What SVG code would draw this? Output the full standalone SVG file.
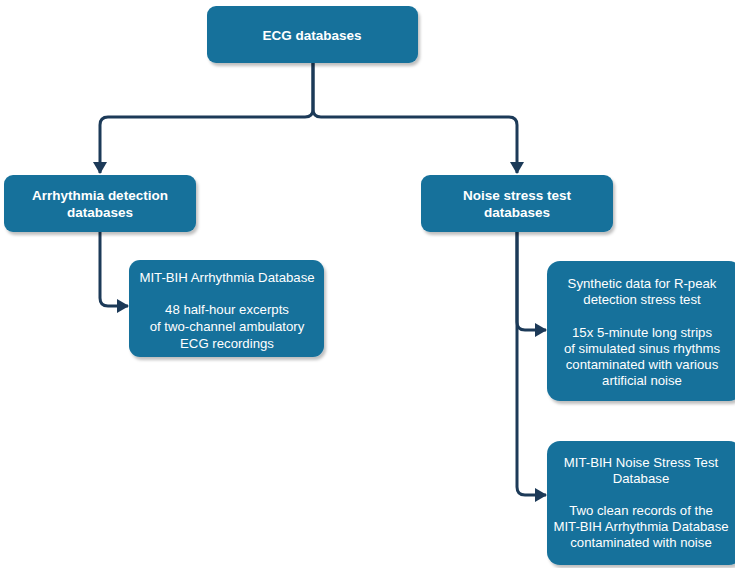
<svg xmlns="http://www.w3.org/2000/svg" width="735" height="568" viewBox="0 0 735 568">
  <defs>
    <filter id="shadow" x="-10%" y="-10%" width="125%" height="130%">
      <feDropShadow dx="2" dy="3" stdDeviation="1.5" flood-color="#000" flood-opacity="0.25"/>
    </filter>
    <marker id="arrow" viewBox="0 0 12 14" refX="11" refY="7" markerWidth="12" markerHeight="14" markerUnits="userSpaceOnUse" orient="auto">
      <path d="M0,0 L12,7 L0,14 Z" fill="#1c3a58"/>
    </marker>
  </defs>
  <style>
    .box { fill: #17719b; filter: url(#shadow); }
    .head { font-family: "Liberation Sans", Arial, sans-serif; font-size: 13.5px; font-weight: bold; fill: #ffffff; text-anchor: middle; }
    .body { font-family: "Liberation Sans", Arial, sans-serif; font-size: 13.2px; fill: #ffffff; text-anchor: middle; }
    .link { fill: none; stroke: #1c3a58; stroke-width: 3; marker-end: url(#arrow); }
  </style>
  <rect width="735" height="568" fill="#ffffff"/>

  <g id="connectors">
    <path class="link" d="M313,63 V109 Q313,117 305,117 H108 Q100,117 100,125 V173"/>
    <path class="link" d="M313,63 V109 Q313,117 321,117 H509 Q517,117 517,125 V173"/>
    <path class="link" d="M100,232 V298 Q100,306 108,306 H128"/>
    <path class="link" d="M517,232 V322 Q517,330 525,330 H546"/>
    <path class="link" d="M517,232 V487 Q517,495 525,495 H546"/>
  </g>

  <g id="ecg-databases">
    <rect class="box" x="207" y="6" width="211" height="57" rx="9"/>
    <text class="head" x="312" y="40">ECG databases</text>
  </g>

  <g id="arrhythmia-detection">
    <rect class="box" x="4" y="175" width="192" height="57" rx="9"/>
    <text class="head" x="100" y="200">Arrhythmia detection</text>
    <text class="head" x="100" y="217">databases</text>
  </g>

  <g id="noise-stress-test">
    <rect class="box" x="421" y="175" width="192" height="57" rx="9"/>
    <text class="head" x="517" y="200">Noise stress test</text>
    <text class="head" x="517" y="217">databases</text>
  </g>

  <g id="mit-bih-arrhythmia">
    <rect class="box" x="129" y="260" width="195" height="97" rx="11"/>
    <text class="body" x="227" y="282">MIT-BIH Arrhythmia Database</text>
    <text class="body" x="227" y="314">48 half-hour excerpts</text>
    <text class="body" x="227" y="331">of two-channel ambulatory</text>
    <text class="body" x="227" y="348">ECG recordings</text>
  </g>

  <g id="synthetic-data">
    <rect class="box" x="547" y="261" width="195" height="140" rx="13"/>
    <text class="body" x="642" y="288">Synthetic data for R-peak</text>
    <text class="body" x="642" y="304">detection stress test</text>
    <text class="body" x="642" y="337">15x 5-minute long strips</text>
    <text class="body" x="642" y="353">of simulated sinus rhythms</text>
    <text class="body" x="642" y="369">contaminated with various</text>
    <text class="body" x="642" y="385">artificial noise</text>
  </g>

  <g id="mit-bih-noise-stress">
    <rect class="box" x="547" y="441" width="195" height="124" rx="13"/>
    <text class="body" x="641" y="467">MIT-BIH Noise Stress Test</text>
    <text class="body" x="641" y="483">Database</text>
    <text class="body" x="641" y="515">Two clean records of the</text>
    <text class="body" x="641" y="531">MIT-BIH Arrhythmia Database</text>
    <text class="body" x="641" y="547">contaminated with noise</text>
  </g>
</svg>
